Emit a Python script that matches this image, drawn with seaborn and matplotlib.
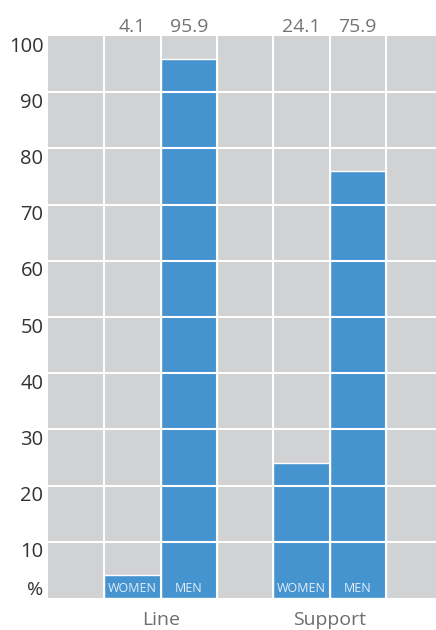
import matplotlib
matplotlib.use("Agg")
import matplotlib.pyplot as plt
import seaborn as sns
import pandas as pd

groups = ["Line", "Support"]
genders = ["WOMEN", "MEN"]
values = [4.1, 95.9, 24.1, 75.9]
slots = ["pad0", "Line WOMEN", "Line MEN", "gap", "Support WOMEN", "Support MEN", "pad1"]
yticks = [10, 20, 30, 40, 50, 60, 70, 80, 90, 100]

sns.set_theme(style="white")
plt.rcParams["font.family"] = ["Open Sans", "DejaVu Sans"]

names = [f"{g} {s}" for g in groups for s in genders]
df = pd.DataFrame({"slot": names, "value": values,
                   "gender": [s for g in groups for s in genders],
                   "group": [g for g in groups for s in genders]})

fig = plt.figure(figsize=(4.36, 6.3), dpi=100)
ax = fig.add_axes([48/436, 32/630, 1 - 48/436, (598-36)/630])
ax.set_facecolor("#d1d2d4")
sns.barplot(data=df, x="slot", y="value", order=slots, color="#4594d0",
            width=1.0, saturation=1, ax=ax, zorder=1, errorbar=None)
ax.set_xlim(-0.5, 6.39)
ax.set_ylim(0, 100)
for s in ax.spines.values():
    s.set_visible(False)
ax.set_xlabel("")
ax.set_ylabel("")
ax.set_xticks([])
ax.set_yticks([])

for v in yticks[:-1]:
    ax.axhline(v, color="white", lw=1.5, zorder=3)
for xv in [0.5, 1.5, 2.5, 3.5, 4.5, 5.5]:
    ax.axvline(xv, color="white", lw=1.5, zorder=3)

for v in yticks:
    ax.text(-0.58, v - 1.9, str(v), ha="right", va="center", fontsize=14.5,
            color="#333333", clip_on=False)
ax.text(-0.58, 1.4, "%", ha="right", va="center", fontsize=14,
        color="#333333", clip_on=False)

for i, row in df.iterrows():
    xpos = slots.index(row["slot"])
    ax.text(xpos, 101.6, f"{row['value']:.1f}", ha="center", va="center",
            fontsize=14, color="#737476", clip_on=False)
    ax.text(xpos, 1.7, row["gender"], ha="center", va="center",
            fontsize=9, color="#e4eef8", zorder=4)

for g, xc in zip(groups, [1.5, 4.5]):
    ax.text(xc, -4.0, g, ha="center", va="center", fontsize=14,
            color="#6d6e71", clip_on=False)

fig.savefig("out.png", dpi=100)
